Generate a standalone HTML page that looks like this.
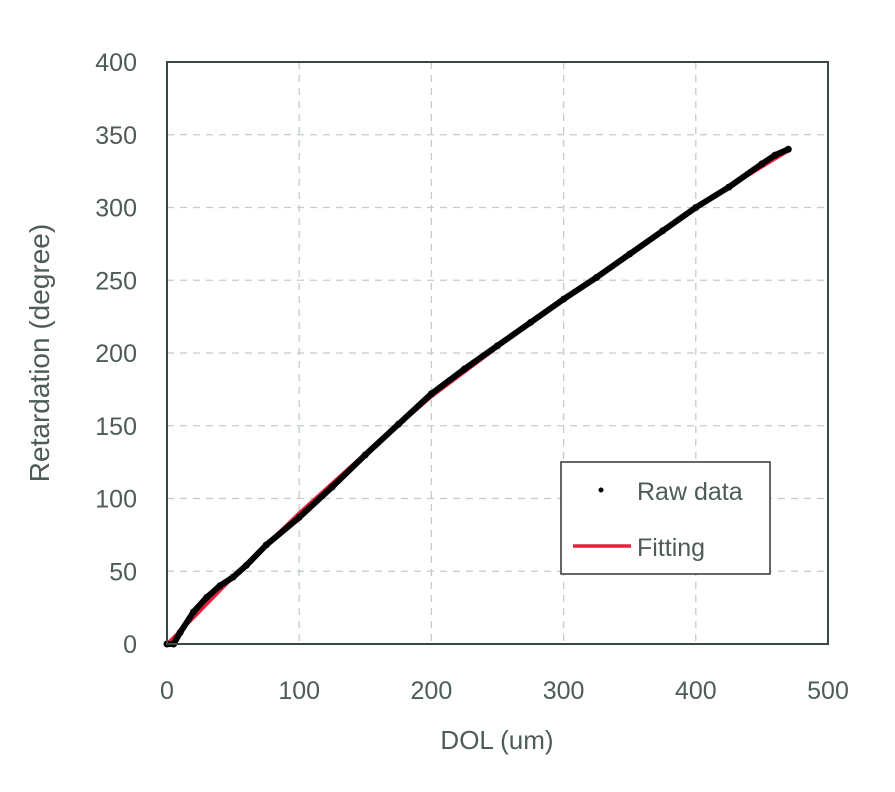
<!DOCTYPE html>
<html><head><meta charset="utf-8"><style>
body{margin:0;background:#fff;}
svg text{font-family:"Liberation Sans",sans-serif;fill:#4d5c5a;}
</style></head><body>
<svg width="895" height="787" xmlns="http://www.w3.org/2000/svg">
<rect width="895" height="787" fill="#fff"/>
<g id="grid"></g>
<g id="series"></g>
<g id="axes"></g>
<text x="497" y="749" font-size="26" text-anchor="middle">DOL (um)</text>
<text transform="translate(49,353) rotate(-90)" font-size="28" text-anchor="middle">Retardation (degree)</text>
<g>
<rect x="561" y="462" width="209" height="112" fill="#fff" stroke="#333" stroke-width="1.5"/>
<circle cx="601" cy="490" r="2.5" fill="#000"/>
<text x="637" y="500" font-size="25">Raw data</text>
<line x1="573" y1="546" x2="631" y2="546" stroke="#e8203a" stroke-width="3.5"/>
<text x="637" y="556" font-size="25">Fitting</text>
</g>
</svg>
<script>
const xTicks=[0,100,200,300,400,500];
const yTicks=[0,50,100,150,200,250,300,350,400];
const rawX=[0,5,10,20,30,40,50,60,75,100,125,150,175,200,225,250,275,300,325,350,375,400,425,450,460,470];
const rawY=[0,0,8,22,32,40,46,54,68,87,108,130,151,172,189,205,221,237,252,268,284,300,314,330,336,340];
const fitX=[0,20,50,100,150,200,250,300,350,400,450,470];
const fitY=[0,18,46,90,131,170,204,237,269,300,328,339];
const L=167,R=828,T=62,B=644;
const sx=v=>L+(v-0)/500*(R-L);
const sy=v=>B-(v/400)*(B-T);
const NS='http://www.w3.org/2000/svg';
function mk(t,a,p){const e=document.createElementNS(NS,t);for(const k in a)e.setAttribute(k,a[k]);p.appendChild(e);return e;}
const grid=document.getElementById('grid'),axes=document.getElementById('axes'),ser=document.getElementById('series');
xTicks.forEach(v=>{if(v>0&&v<500){const l=mk('line',{x1:sx(v),x2:sx(v),y1:T,y2:B,stroke:'#c4cccb','stroke-width':1.3,'stroke-dasharray':'7,6'},grid);

}
const t=mk('text',{x:sx(v),y:699,'font-size':25,'text-anchor':'middle'},axes);t.textContent=v;

});
yTicks.forEach(v=>{if(v>0&&v<400){const l=mk('line',{x1:L,x2:R,y1:sy(v),y2:sy(v),stroke:'#c4cccb','stroke-width':1.3,'stroke-dasharray':'7,6'},grid);

}
const t=mk('text',{x:137,y:sy(v)+9,'font-size':25,'text-anchor':'end'},axes);t.textContent=v;

});
const fr=mk('rect',{x:L,y:T,width:R-L,height:B-T,fill:'none',stroke:'#3c4644','stroke-width':2},axes);


const fit=mk('polyline',{points:fitX.map((x,i)=>sx(x)+','+sy(fitY[i])).join(' '),fill:'none',stroke:'#e8203a','stroke-width':3.5},ser);


const raw=mk('polyline',{points:rawX.map((x,i)=>sx(x)+','+sy(rawY[i])).join(' '),fill:'none',stroke:'#000','stroke-width':6,'stroke-linecap':'round','stroke-linejoin':'round'},ser);


rawX.forEach((x,i)=>{const c=mk('circle',{cx:sx(x),cy:sy(rawY[i]),r:3.5,fill:'#000'},ser);

});
</script>
</body></html>
